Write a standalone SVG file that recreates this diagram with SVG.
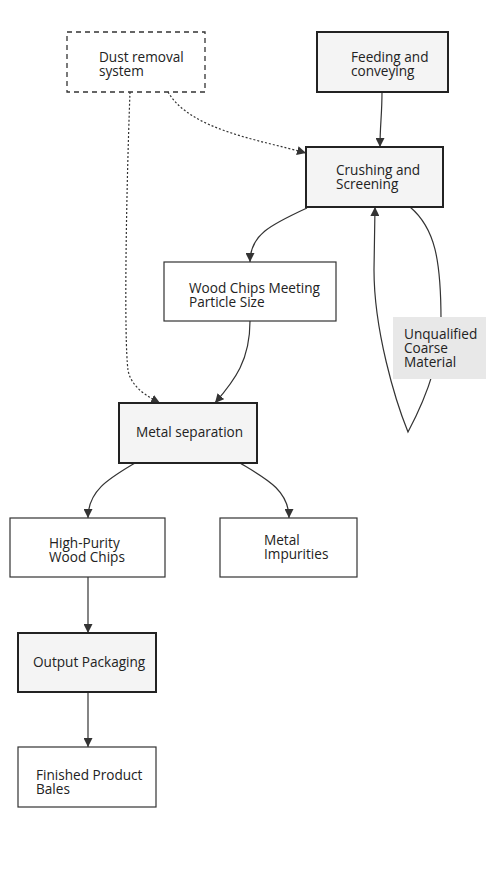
<svg xmlns="http://www.w3.org/2000/svg" width="497" height="882" viewBox="0 0 497 882">
<style>
.bg{fill:#ffffff}
.proc{fill:#f4f4f4;stroke:#222;stroke-width:2}
.plain{fill:#ffffff;stroke:#333;stroke-width:1.2}
.dash{fill:#ffffff;stroke:#333;stroke-width:1.3;stroke-dasharray:5 4}
.lbl{fill:#e8e8e8;stroke:none}
text{font-family:"Open Sans","Liberation Sans",sans-serif;font-size:13.6px;fill:#222}
.e{fill:none;stroke:#333;stroke-width:1.2}
.d{fill:none;stroke:#333;stroke-width:1.2;stroke-dasharray:2 2}
</style>
<defs>
<marker id="ah" viewBox="0 0 10 10" refX="10" refY="5" markerWidth="9" markerHeight="9" markerUnits="userSpaceOnUse" orient="auto">
<path d="M0,0 L10,5 L0,10 z" fill="#333"/>
</marker>
</defs>
<rect class="bg" x="0" y="0" width="497" height="882"/>
<g id="connectors">
<path class="e" d="M382,92 C382,115 380,125 380,147" marker-end="url(#ah)"/>
<path class="d" d="M168,92 C190,130 260,140 306,153" marker-end="url(#ah)"/>
<path class="d" d="M130,92 C126,200 124,340 128,370 C131,388 150,398 160,403" marker-end="url(#ah)"/>
<path class="e" d="M307,208 C270,225 250,235 250,262" marker-end="url(#ah)"/>
<path class="e" d="M250,321 C250,360 235,380 215,403" marker-end="url(#ah)"/>
<path class="e" d="M135,463 C110,478 88,490 88,518" marker-end="url(#ah)"/>
<path class="e" d="M240,463 C265,478 289,490 289,518" marker-end="url(#ah)"/>
<path class="e" d="M88,577 L88,633" marker-end="url(#ah)"/>
<path class="e" d="M88,692 L88,747" marker-end="url(#ah)"/>
<path class="e" d="M410,207 C435,228 441,260 441,320 C441,360 425,400 408,432 C395,400 374,330 374,270 L375,207" marker-end="url(#ah)"/>
</g>
<g id="label-unqualified">
<rect class="lbl" x="393" y="317" width="93" height="62"/>
<text x="404" y="339">Unqualified</text>
<text x="404" y="353">Coarse</text>
<text x="404" y="367">Material</text>
</g>
<g id="dust">
<rect class="dash" x="67" y="32" width="138" height="60"/>
<text x="99" y="62">Dust removal</text>
<text x="99" y="76">system</text>
</g>
<g id="feeding">
<rect class="proc" x="317" y="32" width="131" height="60"/>
<text x="351" y="62">Feeding and</text>
<text x="351" y="76">conveying</text>
</g>
<g id="crushing">
<rect class="proc" x="306" y="147" width="137" height="60"/>
<text x="336" y="175">Crushing and</text>
<text x="336" y="189">Screening</text>
</g>
<g id="woodchips">
<rect class="plain" x="164" y="262" width="172" height="59"/>
<text x="189" y="293">Wood Chips Meeting</text>
<text x="189" y="307">Particle Size</text>
</g>
<g id="metalsep">
<rect class="proc" x="119" y="403" width="138" height="60"/>
<text x="136" y="437">Metal separation</text>
</g>
<g id="highpurity">
<rect class="plain" x="10" y="518" width="155" height="59"/>
<text x="49" y="548">High-Purity</text>
<text x="49" y="562">Wood Chips</text>
</g>
<g id="impurities">
<rect class="plain" x="220" y="518" width="137" height="59"/>
<text x="264" y="545">Metal</text>
<text x="264" y="559">Impurities</text>
</g>
<g id="output">
<rect class="proc" x="18" y="633" width="138" height="59"/>
<text x="33" y="667">Output Packaging</text>
</g>
<g id="finished">
<rect class="plain" x="18" y="747" width="138" height="60"/>
<text x="36" y="780">Finished Product</text>
<text x="36" y="794">Bales</text>
</g>
</svg>
